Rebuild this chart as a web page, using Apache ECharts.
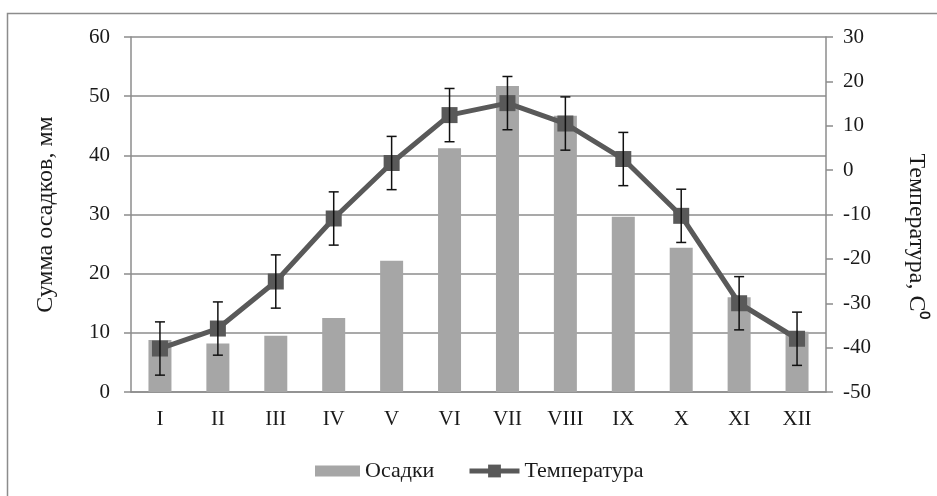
<!DOCTYPE html>
<html>
<head>
<meta charset="utf-8">
<script src="https://cdn.jsdelivr.net/npm/echarts@6/dist/echarts.min.js"></script>
<style>
  html, body { margin: 0; padding: 0; background: #fff; }
  #main { width: 937px; height: 496px; }
</style>
</head>
<body>
<div id="main"></div>
<script>
var months = ['I', 'II', 'III', 'IV', 'V', 'VI', 'VII', 'VIII', 'IX', 'X', 'XI', 'XII'];
var precip = [8.8, 8.2, 9.5, 12.5, 22.2, 41.2, 51.7, 46.7, 29.6, 24.4, 16.0, 10.2];
var temp = [-40.2, -35.7, -25.1, -10.9, 1.6, 12.4, 15.1, 10.5, 2.5, -10.3, -30.0, -38.0];
var tempErr = [6, 6, 6, 6, 6, 6, 6, 6, 6, 6, 6, 6];

var chart = echarts.init(document.getElementById('main'));
var serif = 'Liberation Serif';
var gridColor = '#8c8c8c';
var txt = '#1a1a1a';

var errData = temp.map(function (v, i) {
  return [i, v - tempErr[i], v + tempErr[i]];
});

var option = {
  backgroundColor: '#fff',
  animation: false,
  textStyle: { fontFamily: serif },
  graphic: [{
    type: 'rect',
    shape: { x: 7.5, y: 13.5, width: 1000, height: 1000 },
    style: { fill: 'none', stroke: gridColor, lineWidth: 1.5 },
    silent: true
  }],
  grid: { left: 131, right: 111, top: 37, bottom: 104 },
  legend: [{
    data: ['Осадки'],
    left: 315, top: 460,
    padding: 0,
    icon: 'rect',
    itemWidth: 45, itemHeight: 11,
    textStyle: { fontFamily: serif, fontSize: 22, color: txt }
  }, {
    data: ['Температура'],
    left: 467, top: 460,
    padding: 0,
    itemWidth: 50, itemHeight: 16,
    lineStyle: { width: 5 },
    textStyle: { fontFamily: serif, fontSize: 22, color: txt }
  }],
  xAxis: {
    type: 'category',
    data: months,
    axisLine: { lineStyle: { color: gridColor, width: 1.5 } },
    axisTick: { length: 7, lineStyle: { color: gridColor, width: 1.5 } },
    axisLabel: { margin: 17, fontSize: 21, color: txt, fontFamily: serif }
  },
  yAxis: [{
    type: 'value',
    min: 0, max: 60, interval: 10,
    name: 'Сумма осадков, мм',
    nameLocation: 'middle',
    nameGap: 73,
    nameRotate: 90,
    nameTextStyle: { fontFamily: serif, fontSize: 24, color: txt },
    axisLine: { show: true, lineStyle: { color: gridColor, width: 1.5 } },
    axisTick: { show: true, length: 7, lineStyle: { color: gridColor, width: 1.5 } },
    axisLabel: { margin: 21, fontSize: 21, color: txt, fontFamily: serif },
    splitLine: { show: true, lineStyle: { color: gridColor, width: 1.5 } }
  }, {
    type: 'value',
    min: -50, max: 30, interval: 10,
    position: 'right',
    name: 'Температура, С⁰',
    nameLocation: 'middle',
    nameGap: 78,
    nameRotate: -90,
    nameTextStyle: { fontFamily: serif, fontSize: 24, color: txt, padding: [0, 0, 0, 44] },
    axisLine: { show: true, lineStyle: { color: gridColor, width: 1.5 } },
    axisTick: { show: true, length: 7, lineStyle: { color: gridColor, width: 1.5 } },
    axisLabel: { margin: 17, fontSize: 21, color: txt, fontFamily: serif },
    splitLine: { show: false }
  }],
  series: [{
    name: 'Осадки',
    type: 'bar',
    yAxisIndex: 0,
    barWidth: 23,
    itemStyle: { color: '#a6a6a6' },
    data: precip
  }, {
    name: 'Температура',
    type: 'line',
    yAxisIndex: 1,
    symbol: 'rect',
    symbolSize: 16,
    z: 3,
    lineStyle: { color: '#595959', width: 5 },
    itemStyle: { color: '#595959' },
    data: temp
  }, {
    name: 'err',
    type: 'custom',
    yAxisIndex: 1,
    z: 5,
    silent: true,
    renderItem: function (params, api) {
      var x = api.value(0);
      var lo = api.coord([x, api.value(1)]);
      var hi = api.coord([x, api.value(2)]);
      var cap = 5;
      var st = { stroke: '#111', lineWidth: 1.5 };
      return {
        type: 'group',
        children: [
          { type: 'line', shape: { x1: lo[0], y1: lo[1], x2: hi[0], y2: hi[1] }, style: st },
          { type: 'line', shape: { x1: lo[0] - cap, y1: lo[1], x2: lo[0] + cap, y2: lo[1] }, style: st },
          { type: 'line', shape: { x1: hi[0] - cap, y1: hi[1], x2: hi[0] + cap, y2: hi[1] }, style: st }
        ]
      };
    },
    encode: { x: 0, y: [1, 2] },
    data: errData
  }]
};

chart.setOption(option);
window.onresize = function () {
  chart.resize();
};
</script>
</body>
</html>
